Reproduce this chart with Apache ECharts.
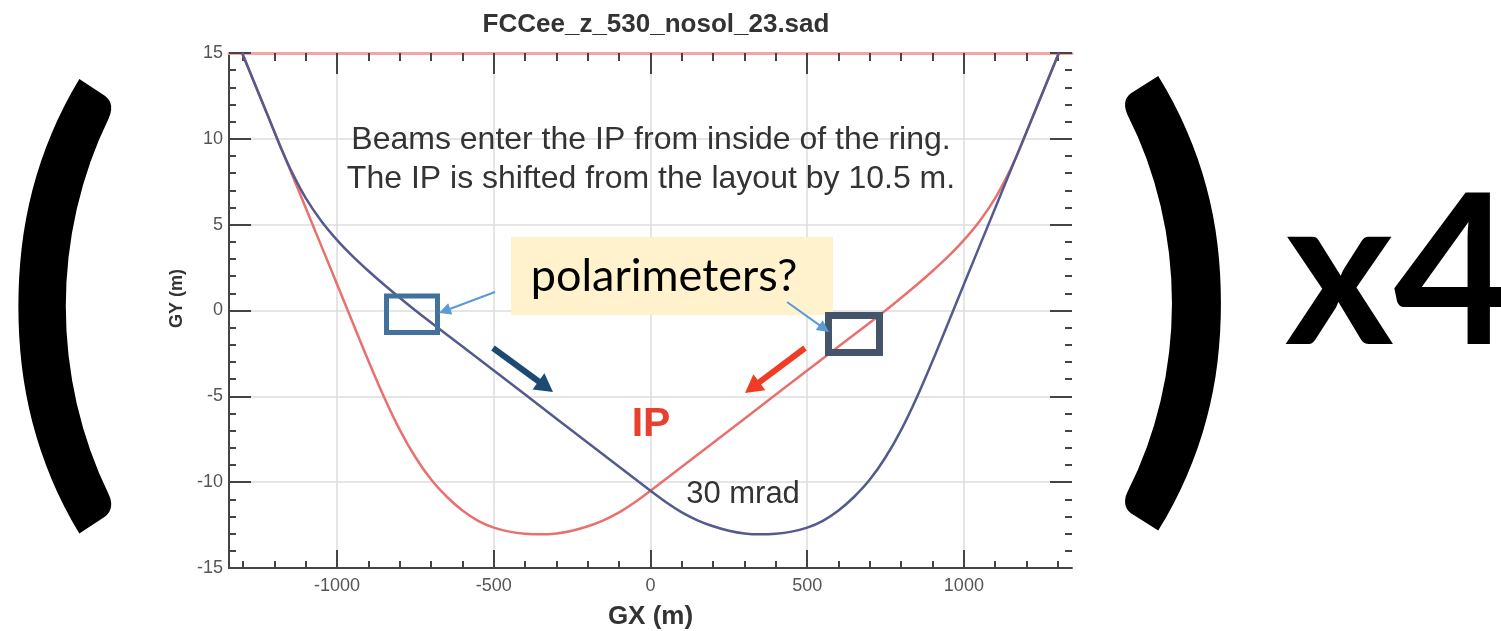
<!DOCTYPE html>
<html>
<head>
<meta charset="utf-8">
<script src="https://cdn.jsdelivr.net/npm/echarts@6/dist/echarts.min.js"></script>
<style>
html, body { margin: 0; padding: 0; background: #fff; }
#chart { width: 1501px; height: 631px; }
</style>
</head>
<body>
<div id="chart"></div>
<script>
// beam orbits (GX in m, GY in m)
var redX = [-1303, -1220, -1135, -1050, -966, -910, -850, -800, -750, -700, -650, -600, -550, -500, -450, -400,
            -350, -300, -250, -200, -150, -100, -50, 0,
            200, 400, 600, 750, 850, 900, 950, 1000, 1050, 1100, 1140, 1180, 1220, 1260, 1303];
var redY = [15, 11.3, 7.53, 3.75, 0, -2.5, -5.05, -6.95, -8.55, -9.85, -10.85, -11.65, -12.25, -12.65, -12.88, -13.0,
            -13.04, -12.99, -12.83, -12.57, -12.22, -11.76, -11.17, -10.5,
            -7.7, -4.9, -2.1, 0, 1.5, 2.3, 3.15, 4.1, 5.2, 6.55, 7.9, 9.5, 11.3, 13.08, 15];
var blueX = [-1303, -1260, -1220, -1180, -1140, -1100, -1050, -1000, -950, -900, -850, -750, -600, -400, -200,
             0, 50, 100, 150, 200, 250, 300, 350,
             400, 450, 500, 550, 600, 650, 700, 750, 800, 850, 910, 966, 1050, 1135, 1220, 1303];
var blueY = [15, 13.08, 11.3, 9.5, 7.9, 6.55, 5.2, 4.1, 3.15, 2.3, 1.5, 0, -2.1, -4.9, -7.7,
             -10.5, -11.17, -11.76, -12.22, -12.57, -12.83, -12.99, -13.04,
             -13.0, -12.88, -12.65, -12.25, -11.65, -10.85, -9.85, -8.55, -6.95, -5.05, -2.5, 0, 3.75, 7.53, 11.3, 15];

var xMajorTicks = [-1000, -500, 0, 500, 1000];
var xMinorTicks = [-1300, -1200, -1100, -1000, -900, -800, -700, -600, -500, -400, -300, -200, -100, 0,
                   100, 200, 300, 400, 500, 600, 700, 800, 900, 1000, 1100, 1200, 1300];
var xRange = [-1345, 1345];
var yRange = [-15, 15];

var FONT = '"Liberation Sans", Arial, sans-serif';
var INK = '#333';

function pairs(xs, ys) {
    return xs.map(function (x, i) { return [x, ys[i]]; });
}

function xAxisDef(pos, ticks, len, extra) {
    var ax = {
        type: 'value', position: pos, min: xRange[0], max: xRange[1],
        axisLine: { show: false, onZero: false },
        axisTick: { show: true, inside: true, length: len, customValues: ticks, lineStyle: { color: '#444', width: 2 } },
        axisLabel: { show: false },
        splitLine: { show: false }
    };
    return Object.assign(ax, extra || {});
}

function yAxisDef(pos, extra) {
    var ax = {
        type: 'value', position: pos, min: yRange[0], max: yRange[1], interval: 5,
        axisLine: { show: false, onZero: false },
        axisTick: { show: true, inside: true, length: 22, lineStyle: { color: '#444', width: 2 } },
        minorTick: { show: true, splitNumber: 5, length: 7, lineStyle: { color: '#444', width: 2 } },
        axisLabel: { show: false },
        splitLine: { show: false }
    };
    return Object.assign(ax, extra || {});
}

function arrow(x1, y1, x2, y2, head, half, width, color) {
    var dx = x2 - x1, dy = y2 - y1, l = Math.sqrt(dx * dx + dy * dy);
    var ux = dx / l, uy = dy / l;
    var bx = x2 - ux * head, by = y2 - uy * head;
    return [
        { type: 'line', z: 100, shape: { x1: x1, y1: y1, x2: bx + ux * 2, y2: by + uy * 2 },
          style: { stroke: color, lineWidth: width } },
        { type: 'polygon', z: 100, shape: { points: [[x2, y2], [bx - uy * half, by + ux * half], [bx + uy * half, by - ux * half]] },
          style: { fill: color } }
    ];
}

var chart = echarts.init(document.getElementById('chart'), null, { renderer: 'canvas' });

var graphics = [
    { type: 'text', z: 100, x: 651, y: 140, style: { text: 'Beams enter the IP from inside of the ring.', font: '32px ' + FONT, fill: INK, textAlign: 'center', textVerticalAlign: 'middle' } },
    { type: 'text', z: 100, x: 651, y: 179, style: { text: 'The IP is shifted from the layout by 10.5 m.', font: '32px ' + FONT, fill: INK, textAlign: 'center', textVerticalAlign: 'middle' } },
    { type: 'text', z: 100, x: 651, y: 425, style: { text: 'IP', font: 'bold 41px ' + FONT, fill: '#e8402f', textAlign: 'center', textVerticalAlign: 'middle' } },
    { type: 'text', z: 100, x: 743, y: 494, style: { text: '30 mrad', font: '31px ' + FONT, fill: INK, textAlign: 'center', textVerticalAlign: 'middle' } },
    // note box
    { type: 'rect', z: 100, shape: { x: 511, y: 237, width: 322, height: 78 }, style: { fill: '#fff2cc' } },
    { type: 'text', z: 101, x: 664, y: 276, style: { text: 'polarimeters?', font: '45px Lato, "Open Sans", sans-serif', fill: '#000', textAlign: 'center', textVerticalAlign: 'middle' } },
    { type: 'rect', z: 100, shape: { x: 386.5, y: 296, width: 51, height: 36.5 }, style: { fill: 'none', stroke: '#41719c', lineWidth: 5 } },
    { type: 'rect', z: 100, shape: { x: 828.5, y: 315.5, width: 51, height: 37 }, style: { fill: 'none', stroke: '#44546a', lineWidth: 7 } },
    // big brackets and multiplier
    { type: 'text', z: 100, x: 63, y: 302, scaleX: 0.92, style: { text: '(', font: 'bold 482px Lato, sans-serif', fill: '#000', textAlign: 'center', textVerticalAlign: 'middle' } },
    { type: 'text', z: 100, x: 1175, y: 299, scaleX: 0.95, style: { text: ')', font: 'bold 482px Lato, sans-serif', fill: '#000', textAlign: 'center', textVerticalAlign: 'middle' } },
    { type: 'text', z: 100, x: 1285, y: 381, style: { text: 'x4', font: 'bold 208px Lato, sans-serif', fill: '#000', textAlign: 'left', textVerticalAlign: 'bottom' } }
];
graphics = graphics
    .concat(arrow(493, 348, 553, 392, 18, 10, 6, '#1c4a72'))
    .concat(arrow(805, 348, 745, 393, 18, 10, 6, '#f03c24'))
    .concat(arrow(495, 292, 439, 313, 12, 6, 2, '#5b9bd5'))
    .concat(arrow(787, 302, 829, 332, 12, 6, 2, '#5b9bd5'));

var option = {
    backgroundColor: '#fff',
    animation: false,
    title: {
        text: 'FCCee_z_530_nosol_23.sad',
        left: 651, top: 7, textAlign: 'center',
        textStyle: { fontFamily: FONT, fontSize: 26, fontWeight: 'bold', color: INK }
    },
    grid: { left: 229, right: 429, top: 53, bottom: 63, outerBoundsMode: 'none', containLabel: false },
    xAxis: [
        xAxisDef('bottom', xMajorTicks, 18, {
            name: 'GX (m)', nameLocation: 'middle', nameGap: 36,
            nameTextStyle: { fontFamily: FONT, fontSize: 26, fontWeight: 'bold', color: INK },
            axisLine: { show: true, onZero: false, lineStyle: { color: '#444', width: 2 } },
            axisLabel: { show: true, customValues: xMajorTicks, margin: 9, fontFamily: FONT, fontSize: 18, color: '#555',
                formatter: function (v) { return String(v); } },
            splitLine: { show: true, lineStyle: { color: '#dcdcdc', width: 1.5 } }
        }),
        xAxisDef('bottom', xMinorTicks, 7),
        xAxisDef('top', xMajorTicks, 21, {
            axisLine: { show: true, onZero: false, lineStyle: { color: '#f4a4a4', width: 3 } }
        }),
        xAxisDef('top', xMinorTicks, 8)
    ],
    yAxis: [
        yAxisDef('left', {
            name: 'GY (m)', nameLocation: 'middle', nameGap: 40,
            nameTextStyle: { fontFamily: FONT, fontSize: 18, fontWeight: 'bold', color: INK, padding: [0, 0, 0, 24] },
            axisLine: { show: true, onZero: false, lineStyle: { color: '#444', width: 2 } },
            axisLabel: { show: true, margin: 6, fontFamily: FONT, fontSize: 18, color: '#555' },
            splitLine: { show: true, lineStyle: { color: '#dcdcdc', width: 1.5 } }
        }),
        yAxisDef('right')
    ],
    series: [
        {
            name: 'beam 1', type: 'line', xAxisIndex: 0, yAxisIndex: 0,
            data: pairs(redX, redY), smooth: 0.3, showSymbol: false,
            lineStyle: { color: '#e8716f', width: 2.5 }
        },
        {
            name: 'beam 2', type: 'line', xAxisIndex: 0, yAxisIndex: 0,
            data: pairs(blueX, blueY), smooth: 0.3, showSymbol: false,
            lineStyle: { color: '#555a8e', width: 2.5 }
        }
    ],
    graphic: graphics
};

chart.setOption(option);
</script>
</body>
</html>
